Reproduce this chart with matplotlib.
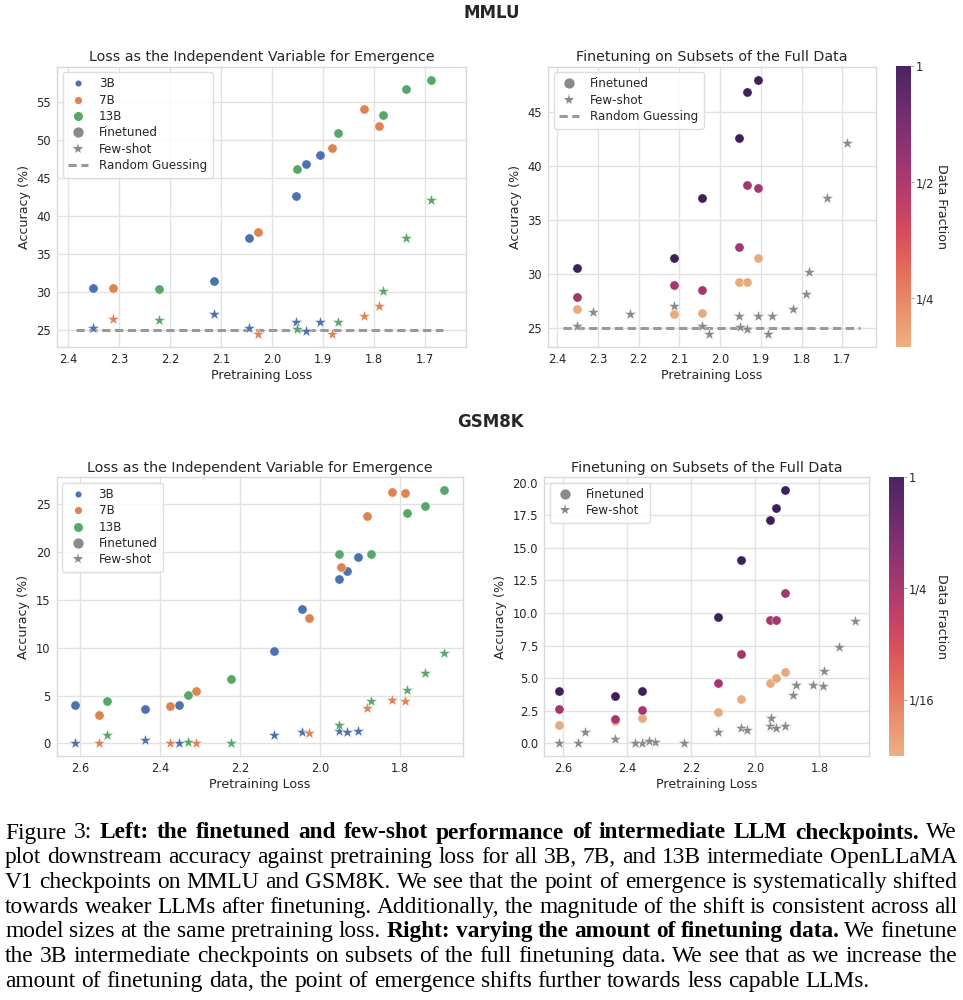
import matplotlib
matplotlib.use('Agg')
import matplotlib.pyplot as plt
import numpy as np
import seaborn as sns
from matplotlib.colors import LogNorm
from matplotlib.lines import Line2D
from matplotlib.cm import ScalarMappable

plt.rcParams['font.family'] = ['DejaVu Sans']

# ---------------- data: MMLU ----------------
mmlu_3b_loss = [2.352, 2.114, 2.045, 1.953, 1.934, 1.906]
mmlu_3b_ft = [30.6, 31.5, 37.1, 42.6, 46.9, 48.0]
mmlu_3b_fs = [25.2, 27.1, 25.2, 26.1, 24.9, 26.1]
mmlu_7b_loss = [2.312, 2.027, 1.883, 1.821, 1.790]
mmlu_7b_ft = [30.5, 37.9, 49.0, 54.1, 51.9]
mmlu_7b_fs = [26.5, 24.5, 24.5, 26.8, 28.2]
mmlu_13b_loss = [2.222, 1.951, 1.872, 1.783, 1.737, 1.688]
mmlu_13b_ft = [30.4, 46.2, 51.0, 53.4, 56.7, 58.0]
mmlu_13b_fs = [26.3, 25.1, 26.1, 30.2, 37.1, 42.1]
# 3B finetuned on data subsets
mmlu_fractions = [1.0, 0.5, 0.25]
mmlu_fraction_labels = ['1', '1/2', '1/4']
mmlu_3b_half = [27.9, 29.0, 28.5, 32.5, 38.3, 38.0]
mmlu_3b_quarter = [26.8, 26.3, 26.4, 29.25, 29.25, 31.5]
mmlu_random = 25.0

# ---------------- data: GSM8K ----------------
gsm_3b_loss = [2.612, 2.439, 2.353, 2.115, 2.046, 1.954, 1.934, 1.907]
gsm_3b_ft = [4.0, 3.6, 4.0, 9.7, 14.05, 17.15, 18.06, 19.46]
gsm_3b_fs = [0.0, 0.3, 0.0, 0.85, 1.2, 1.3, 1.2, 1.3]
gsm_7b_loss = [2.5525, 2.375, 2.312, 2.027, 1.948, 1.883, 1.821, 1.789]
gsm_7b_ft = [2.96, 3.94, 5.47, 13.15, 18.4, 23.8, 26.25, 26.2]
gsm_7b_fs_loss = [2.5525, 2.375, 2.312, 2.027, 1.883, 1.821, 1.789]
gsm_7b_fs = [0.0, 0.0, 0.07, 1.05, 3.73, 4.5, 4.43]
gsm_13b_loss = [2.533, 2.332, 2.224, 1.9525, 1.8725, 1.784, 1.739, 1.690]
gsm_13b_ft = [4.39, 5.06, 6.76, 19.8, 19.8, 24.1, 24.8, 26.46]
gsm_13b_fs = [0.84, 0.17, 0.0, 1.92, 4.46, 5.58, 7.39, 9.41]
gsm_fractions = [1.0, 0.25, 0.0625]
gsm_fraction_labels = ['1', '1/4', '1/16']
gsm_3b_quarter = [2.66, 1.86, 2.58, 4.62, 6.82, 9.48, 9.48, 11.52]
gsm_3b_sixteenth = [1.38, 1.69, 1.97, 2.38, 3.42, 4.65, 5.0, 5.47]

mmlu_xticks = [2.4, 2.3, 2.2, 2.1, 2.0, 1.9, 1.8, 1.7]
gsm_xticks = [2.6, 2.4, 2.2, 2.0, 1.8]

CAPTION = [
    [("Figure 3: ", False), ("Left: the finetuned and few-shot performance of intermediate LLM checkpoints.", True), ("We", False)],
    [("plot downstream accuracy against pretraining loss for all 3B, 7B, and 13B intermediate OpenLLaMA", False)],
    [("V1 checkpoints on MMLU and GSM8K. We see that the point of emergence is systematically shifted", False)],
    [("towards weaker LLMs after finetuning. Additionally, the magnitude of the shift is consistent across all", False)],
    [("model sizes at the same pretraining loss.", False), ("Right: varying the amount of finetuning data.", True), ("We finetune", False)],
    [("the 3B intermediate checkpoints on subsets of the full finetuning data. We see that as we increase the", False)],
    [("amount of finetuning data, the point of emergence shifts further towards less capable LLMs.", False)],
]

# ---------------- style ----------------
W, H = 963, 1000
fig = plt.figure(figsize=(W / 100, H / 100), dpi=100)
BLUE, ORANGE, GREEN = '#4c72b0', '#dd8452', '#55a868'
GRAY = '#8a8a8a'
TXT = '#262626'
flare = sns.color_palette("flare", as_cmap=True)
FRAC_COLORS = ['#3f1f5a', '#a3386e', '#e8ab7e']
CIRC_S = 44
STAR_S = 80


def px_axes(l, t, r, b):
    return fig.add_axes([l / W, 1 - b / H, (r - l) / W, (b - t) / H])


def style(ax, xlim, ylim, xticks, yticks, title, yfmt=None):
    ax.set_facecolor('white')
    for s in ax.spines.values():
        s.set_color('#d9d9d9')
        s.set_linewidth(1.0)
    ax.grid(True, color='#e2e2e2', lw=1.0)
    ax.set_axisbelow(True)
    ax.tick_params(length=0, labelsize=8.3, colors=TXT, pad=4.5)
    ax.set_xticks(xticks)
    ax.set_yticks(yticks)
    if yfmt:
        ax.set_yticklabels([yfmt.format(v) for v in yticks])
    ax.set_xlim(xlim)
    ax.set_ylim(ylim)
    ax.set_xlabel('Pretraining Loss', fontsize=9.1, color=TXT, labelpad=2)
    ax.set_ylabel('Accuracy (%)', fontsize=9.1, color=TXT, labelpad=4)
    ax.set_title(title, fontsize=10.3, color=TXT, pad=4.0)


def random_line(ax, y, x0, x1):
    ax.hlines(y, x0, x1, colors='#9a9a9a', linestyles=(0, (2.7, 1.5)), lw=2.2, zorder=2)


def legend(ax, handles):
    lg = ax.legend(handles=handles, loc='upper left', fontsize=8.6, labelspacing=0.28,
                   handlelength=1.7, handletextpad=0.9, borderpad=0.45, borderaxespad=0.45,
                   framealpha=0.85, edgecolor='#d9d9d9', fancybox=True)
    for t in lg.get_texts():
        t.set_color(TXT)
    return lg


def H_model(c, ms, lab):
    return Line2D([], [], marker='o', ls='', color=c, markersize=ms, markeredgewidth=0, label=lab)


H_FT = Line2D([], [], marker='o', ls='', color=GRAY, markersize=7.4, markeredgewidth=0, label='Finetuned')
H_FS = Line2D([], [], marker='*', ls='', color=GRAY, markersize=8.0, markeredgewidth=0, label='Few-shot')
H_RG = Line2D([], [], ls=(0, (2.7, 1.5)), color='#9a9a9a', lw=2.2, label='Random Guessing')


def scat(ax, x, y, c, marker):
    if marker == 'o':
        ax.scatter(x, y, s=CIRC_S, c=c, marker='o', linewidths=0.3, edgecolors='white', zorder=3)
    else:
        ax.scatter(x, y, s=STAR_S, c=c, marker='*', linewidths=0.3, edgecolors='white', zorder=3)


def colorbar(l, t, r, b, vmin, ticks, labels):
    cax = px_axes(l, t, r, b)
    sm = ScalarMappable(norm=LogNorm(vmin=vmin, vmax=1.0), cmap=flare)
    cb = fig.colorbar(sm, cax=cax)
    cb.outline.set_visible(False)
    cb.ax.minorticks_off()
    cb.set_ticks(ticks)
    cb.set_ticklabels(labels)
    cb.ax.tick_params(length=2.5, width=0.6, color='#999999', labelsize=8.3, labelcolor=TXT, pad=1.2)
    cb.ax.minorticks_off()
    fig.text(941 / W, 1 - ((t + b) / 2) / H, 'Data Fraction', rotation=270, ha='center', va='center',
             fontsize=9.1, color=TXT)


# ---------------- MMLU left ----------------
ax = px_axes(57.3, 66.7, 466, 346.7)
style(ax, (2.4216, 1.620), (22.8, 59.7), mmlu_xticks, [25, 30, 35, 40, 45, 50, 55],
      'Loss as the Independent Variable for Emergence')
random_line(ax, mmlu_random, 2.385, 1.665)
for xs, ft, fs, c in [(mmlu_3b_loss, mmlu_3b_ft, mmlu_3b_fs, BLUE),
                      (mmlu_7b_loss, mmlu_7b_ft, mmlu_7b_fs, ORANGE),
                      (mmlu_13b_loss, mmlu_13b_ft, mmlu_13b_fs, GREEN)]:
    scat(ax, xs, ft, c, 'o')
    scat(ax, xs, fs, c, '*')
legend(ax, [H_model(BLUE, 4.4, '3B'), H_model(ORANGE, 5.2, '7B'), H_model(GREEN, 6.5, '13B'),
            H_FT, H_FS, H_RG])

# ---------------- MMLU right ----------------
ax = px_axes(548.3, 66.7, 875.7, 346.7)
style(ax, (2.422, 1.618), (23.3, 49.2), mmlu_xticks, [25, 30, 35, 40, 45],
      'Finetuning on Subsets of the Full Data')
random_line(ax, mmlu_random, 2.385, 1.657)
scat(ax, mmlu_3b_loss + mmlu_7b_loss + mmlu_13b_loss, mmlu_3b_fs + mmlu_7b_fs + mmlu_13b_fs, GRAY, '*')
for ys, c in zip([mmlu_3b_quarter, mmlu_3b_half, mmlu_3b_ft], FRAC_COLORS[::-1]):
    scat(ax, mmlu_3b_loss, ys, c, 'o')
legend(ax, [H_FT, H_FS, H_RG])
colorbar(896, 65.7, 910.7, 346.7, 3 / 16, mmlu_fractions, mmlu_fraction_labels)

# ---------------- GSM8K left ----------------
ax = px_axes(56.7, 477.3, 463.3, 756)
style(ax, (2.659, 1.6425), (-1.32, 27.8), gsm_xticks, [0, 5, 10, 15, 20, 25],
      'Loss as the Independent Variable for Emergence')
scat(ax, gsm_3b_loss, gsm_3b_ft, BLUE, 'o')
scat(ax, gsm_3b_loss, gsm_3b_fs, BLUE, '*')
scat(ax, gsm_7b_loss, gsm_7b_ft, ORANGE, 'o')
scat(ax, gsm_7b_fs_loss, gsm_7b_fs, ORANGE, '*')
scat(ax, gsm_13b_loss, gsm_13b_ft, GREEN, 'o')
scat(ax, gsm_13b_loss, gsm_13b_fs, GREEN, '*')
legend(ax, [H_model(BLUE, 4.4, '3B'), H_model(ORANGE, 5.2, '7B'), H_model(GREEN, 6.5, '13B'),
            H_FT, H_FS])

# ---------------- GSM8K right ----------------
ax = px_axes(544.3, 477.3, 869.3, 756)
style(ax, (2.659, 1.644), (-0.97, 20.4), gsm_xticks, [0, 2.5, 5, 7.5, 10, 12.5, 15, 17.5, 20],
      'Finetuning on Subsets of the Full Data', yfmt='{:.1f}')
scat(ax, gsm_3b_loss + gsm_7b_fs_loss + gsm_13b_loss, gsm_3b_fs + gsm_7b_fs + gsm_13b_fs, GRAY, '*')
for ys, c in zip([gsm_3b_sixteenth, gsm_3b_quarter, gsm_3b_ft], FRAC_COLORS[::-1]):
    scat(ax, gsm_3b_loss, ys, c, 'o')
legend(ax, [H_FT, H_FS])
colorbar(889, 476.7, 903.7, 755.7, 1 / 32, gsm_fractions, gsm_fraction_labels)

# ---------------- section titles ----------------
fig.text(492 / W, 1 - 12.5 / H, 'MMLU', ha='center', va='center', fontsize=12, weight='bold', color=TXT)
fig.text(490 / W, 1 - 422 / H, 'GSM8K', ha='center', va='center', fontsize=12, weight='bold', color=TXT)

# ---------------- caption (justified) ----------------
renderer = fig.canvas.get_renderer()
SERIF = 'Liberation Serif'


def words_of(line):
    out = []
    for seg, bold in line:
        for w in seg.split():
            out.append((w, bold))
    return out


def measure(text, bold, fs):
    t = fig.text(0, 0, text, fontsize=fs, family=SERIF, weight='bold' if bold else 'normal')
    w = t.get_window_extent(renderer).width
    t.remove()
    return w


fs0 = 15.0
last_w = measure(" ".join(w for w, _ in words_of(CAPTION[-1])), False, fs0)
FS = fs0 * 868.0 / last_w
LEFT, RIGHT = 5.0, 957.0
baseline0, pitch = 838.5, 24.7
space = measure("a a", False, FS) - measure("aa", False, FS)
for i, line in enumerate(CAPTION):
    ws = words_of(line)
    widths = [measure(w, b, FS) for w, b in ws]
    if i < len(CAPTION) - 1:
        gap = (RIGHT - LEFT - sum(widths)) / (len(ws) - 1)
    else:
        gap = space
    x = LEFT
    yb = baseline0 + i * pitch
    for (w, b), wd in zip(ws, widths):
        fig.text(x / W, 1 - yb / H, w, fontsize=FS, family=SERIF, weight='bold' if b else 'normal',
                 ha='left', va='baseline', color='black')
        x += wd + gap

fig.savefig('out.png', dpi=100, facecolor='white')
